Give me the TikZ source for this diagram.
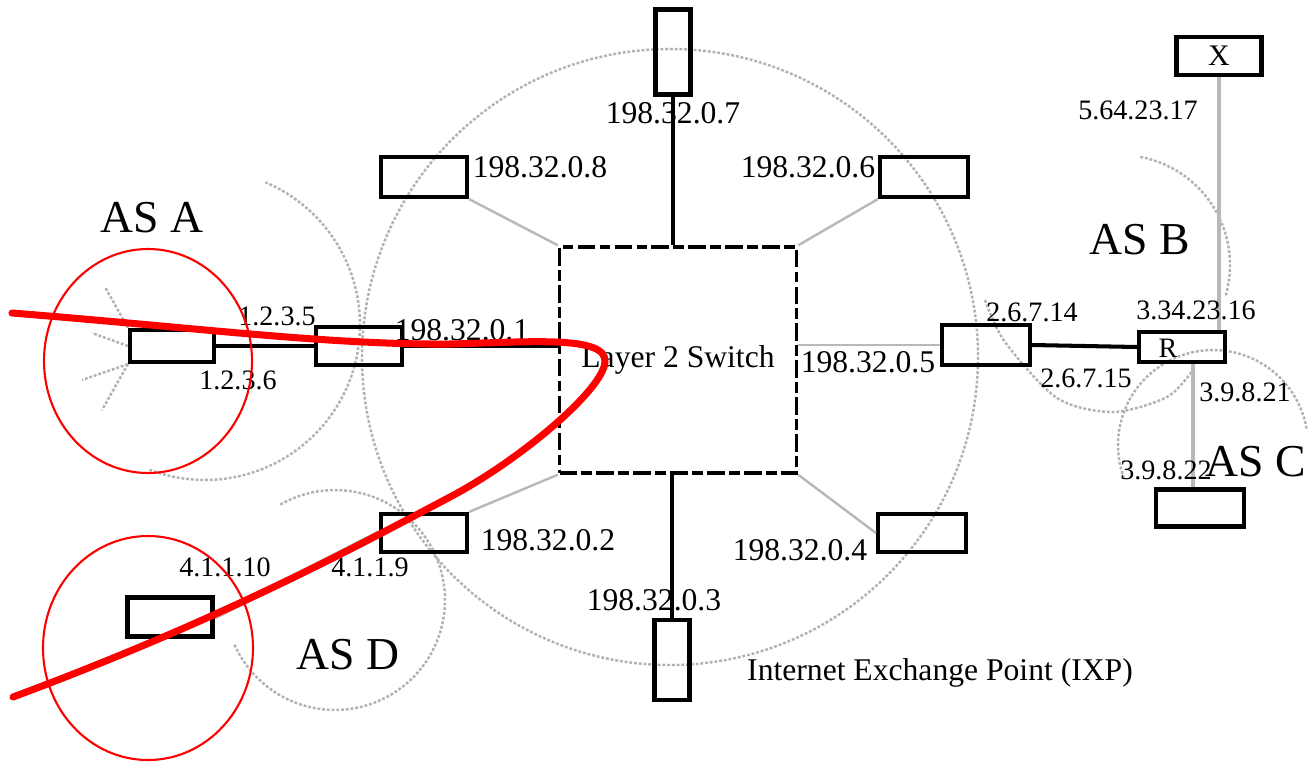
\documentclass[tikz,border=0pt]{standalone}
\usepackage{fontspec}
\setmainfont{Liberation Serif}
\begin{document}
\begin{tikzpicture}[x=0.02cm,y=-0.02cm,
  box/.style={draw, line width=2.4pt, inner sep=0pt},
  lbl/.style={inner sep=0pt, font=\fontsize{16}{16}\selectfont},
  ixl/.style={inner sep=0pt, font=\fontsize{18}{18}\selectfont},
  big/.style={inner sep=0pt, font=\fontsize{26}{26}\selectfont},
  ring/.style={draw=gray!60, line width=1.4pt, dash pattern=on 1.6pt off 1.1pt},
  glink/.style={draw=gray!55, line width=1.4pt},
  blink/.style={draw=black, line width=2.3pt},
  redmark/.style={draw=red, line width=1.2pt},
  redpath/.style={draw=red, line width=4pt},
]
\useasboundingbox (0,0) rectangle (1312,762);

% gray AS / IXP outlines
\draw[ring] (670,357) circle [radius=308];
\draw[ring] plot[domain=-111:67, samples=80] ({205+155*cos(\x)},{325-155*sin(\x)});
\draw[ring] plot[domain=-156:120, samples=80] ({335+110*cos(\x)},{600-110*sin(\x)});
\draw[ring] plot[domain=-16:80, samples=60] ({1120+110*cos(\x)},{265-110*sin(\x)});
\draw[ring] plot[smooth] coordinates {(985,300) (1005,342) (1057,398) (1113,412) (1167,397) (1193,370)};
\draw[ring] plot[domain=10:200, samples=60] ({1213+95*cos(\x)},{445-95*sin(\x)});

% boxes
\node[box, minimum width=0.7cm, minimum height=1.7cm] (n7) at (673,52) {};
\node[box, minimum width=1.72cm, minimum height=0.8cm] (n8) at (424,177) {};
\node[box, minimum width=1.76cm, minimum height=0.8cm] (n6) at (924,177) {};
\node[box, minimum width=1.72cm, minimum height=0.76cm] (n1) at (359,346) {};
\node[box, minimum width=1.76cm, minimum height=0.8cm] (n5) at (986,345) {};
\node[box, minimum width=1.72cm, minimum height=0.76cm] (n2) at (424,533) {};
\node[box, minimum width=1.76cm, minimum height=0.76cm] (n4) at (922,533) {};
\node[box, minimum width=0.7cm, minimum height=1.6cm] (n3) at (672,660) {};
\node[box, minimum width=1.68cm, minimum height=0.64cm] (ra) at (172,346) {};
\node[box, minimum width=1.7cm, minimum height=0.78cm] (rd) at (170,617) {};
\node[box, minimum width=1.72cm, minimum height=0.6cm] (rb) at (1182,347) {};
\node[box, minimum width=1.7cm, minimum height=0.76cm, font=\fontsize{17}{17}\selectfont] (rx) at (1219,56) {X};
\node[box, minimum width=1.76cm, minimum height=0.74cm] (rc) at (1200,508) {};
\node[draw, line width=2pt, dash pattern=on 10pt off 2.5pt on 6pt off 2.5pt,
      minimum width=4.74cm, minimum height=4.52cm, inner sep=0pt,
      font=\fontsize{18}{18}\selectfont] (sw) at (678,360) {\raisebox{4pt}{Layer 2 Switch}};
\node[lbl] (rbl) at (1168,348) {R};

% connectors
\draw[blink] (n7.south) -- (n7.south |- sw.north);
\draw[glink] (n8.south east) -- (sw.north west);
\draw[glink] (n6.south west) -- (sw.north east);
\draw[blink] (n1.east) -- (n1.east -| sw.west);
\draw[glink] (n5.west) -- (n5.west -| sw.east);
\draw[glink] (n2.north east) -- (sw.south west);
\draw[glink] (n4.west) -- (sw.south east);
\draw[blink] (sw.south -| n3.north) -- (n3.north);
\draw[blink] (ra.east) -- (n1.west);
\draw[glink, double=white, double distance=1.2pt, line width=0.9pt] (rd.east) -- (n2.west);
\draw[blink] (n5.east) -- (rb.west);
\draw[glink, line width=1.8pt] (rx.south) -- (rx.south |- rb.north);
\draw[glink, line width=1.8pt] (rc.north -| 1193,0) -- (rb.south -| 1193,0);

% AS A spokes
\coordinate (s1) at (105,287);
\coordinate (s2) at (92,333);
\coordinate (s3) at (82,380);
\coordinate (s4) at (102,410);
\draw[ring] (ra.north west) -- (s1);
\draw[ring] (ra.west) -- (s2);
\draw[ring] (ra.south west) -- (s3);
\draw[ring] (ra.south west) -- (s4);

% labels
\node[ixl] (t7) at (673,113) {198.32.0.7};
\node[ixl] (t8) at (540,167) {198.32.0.8};
\node[ixl] (t6) at (808,167) {198.32.0.6};
\node[ixl] (t1) at (462,330) {198.32.0.1};
\node[ixl] (t5) at (868,362) {198.32.0.5};
\node[ixl] (t2) at (548,540) {198.32.0.2};
\node[ixl] (t4) at (800,550) {198.32.0.4};
\node[ixl] (t3) at (654,600) {198.32.0.3};
\node[ixl] (tixp) at (940,673) {Internet Exchange Point (IXP)};
\node[lbl] (a5) at (277,316) {1.2.3.5};
\node[lbl] (a6) at (238,380) {1.2.3.6};
\node[lbl] (d10) at (225,567) {4.1.1.10};
\node[lbl] (d9) at (370,567) {4.1.1.9};
\node[lbl] (x17) at (1138,110) {5.64.23.17};
\node[lbl] (b16) at (1196,310) {3.34.23.16};
\node[lbl] (b14) at (1032,312) {2.6.7.14};
\node[lbl] (b15) at (1086,378) {2.6.7.15};
\node[lbl] (c21) at (1245,392) {3.9.8.21};
\node[lbl] (c22) at (1166,470) {3.9.8.22};
\node[big] (asa) at (152,218) {AS A};
\node[big] (asd) at (348,655) {AS D};
\node[big] (asb) at (1140,240) {AS B};
\node[big] (asc) at (1256,462) {AS C};

% red annotations
\draw[redmark] (148,361) ellipse [x radius=104, y radius=112];
\draw[redmark] (148,648) ellipse [x radius=105, y radius=112];
\draw[redpath, line cap=round] (12,313) .. controls (200,328) and (330,345) .. (450,344)
  .. controls (530,342) and (607,335) .. (605,362)
  .. controls (603,390) and (520,460) .. (450,497)
  .. controls (350,550) and (220,620) .. (13,697);
\end{tikzpicture}
\end{document}
